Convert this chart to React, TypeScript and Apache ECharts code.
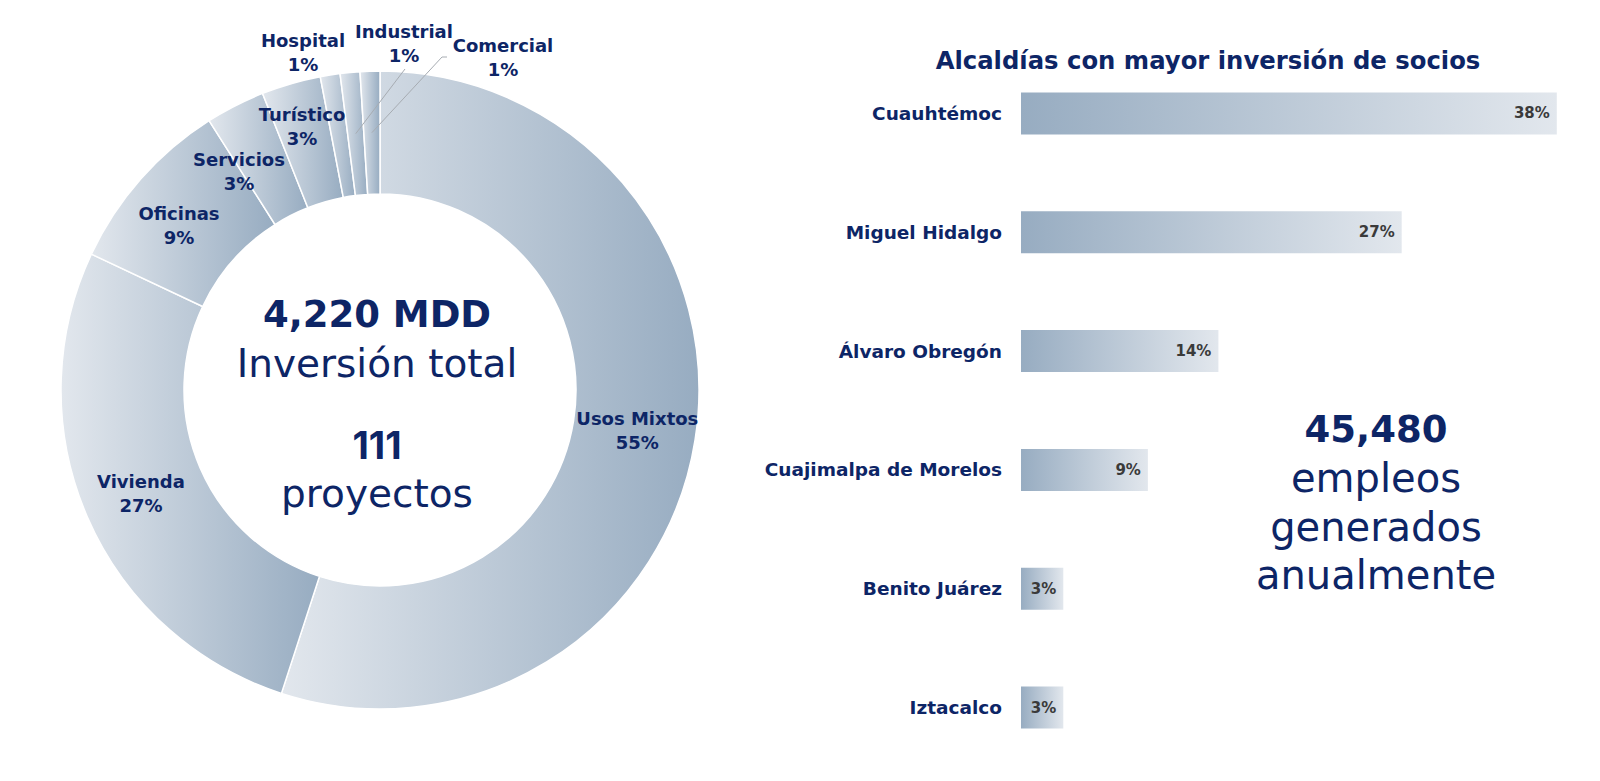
import React, { useEffect, useRef } from "react";
import * as echarts from "echarts";

// Investment by project type (percent of total)
const sectorNames = ["Usos Mixtos", "Vivienda", "Oficinas", "Servicios", "Turístico", "Hospital", "Industrial", "Comercial"];
const sectorShares = [55, 27, 9, 3, 3, 1, 1, 1];

// Boroughs with the largest partner investment (percent)
const boroughs = ["Cuauhtémoc", "Miguel Hidalgo", "Álvaro Obregón", "Cuajimalpa de Morelos", "Benito Juárez", "Iztacalco"];
const boroughShares = [38, 27, 14, 9, 3, 3];

// Headline figures
const totalInvestment = "4,220 MDD";
const totalProjects = "111";
const jobsPerYear = "45,480";

const NAVY = "#0d2566";
const FONT = "'DejaVu Sans', 'Noto Sans', sans-serif";

const PIE_CX = 380;
const PIE_CY = 390;
const R_IN = 196;
const R_OUT = 319;

export default function App() {
  const ref = useRef<HTMLDivElement>(null);

  useEffect(() => {
    document.body.style.margin = "0";
    const chart = echarts.init(ref.current!, null, { renderer: "svg" });

    const pieGradient = () =>
      new echarts.graphic.LinearGradient(0, 0, 1, 0, [
        { offset: 0, color: "#e2e7ed" },
        { offset: 1, color: "#97acc1" },
      ]);
    const barGradient = () =>
      new echarts.graphic.LinearGradient(0, 0, 1, 0, [
        { offset: 0, color: "#97acc1" },
        { offset: 1, color: "#e2e7ed" },
      ]);

    const total = sectorShares.reduce((a, b) => a + b, 0);
    // point in the middle of the ring at a slice's mid-angle (clockwise from top)
    const midRingPoint = (i: number) => {
      const before = sectorShares.slice(0, i).reduce((a, b) => a + b, 0);
      const frac = (before + sectorShares[i] / 2) / total;
      const ang = frac * Math.PI * 2;
      const r = (R_IN + R_OUT) / 2;
      return [PIE_CX + r * Math.sin(ang), PIE_CY - r * Math.cos(ang)];
    };

    // hand-placed labels for the narrow slices in the upper-left of the ring
    const labelPos: Record<number, { x: number; y: number }> = {
      2: { x: 179, y: 225 },
      3: { x: 239, y: 171 },
      4: { x: 302, y: 126 },
      5: { x: 303, y: 52 },
      6: { x: 404, y: 43 },
      7: { x: 503, y: 57 },
    };

    const labelStyle = {
      color: NAVY,
      fontFamily: FONT,
      fontWeight: "bold" as const,
      fontSize: 18,
      lineHeight: 24,
    };

    const pieData = sectorNames.map((name, i) => ({
      name,
      value: sectorShares[i],
      itemStyle: { color: pieGradient() },
      label: { show: true, position: i >= 5 ? "outside" : "inside", ...labelStyle },
      labelLine: { show: false },
    }));

    const leaderLine = (points: number[][]) => ({
      type: "polyline",
      z: 100,
      silent: true,
      shape: { points },
      style: { stroke: "#a7acb2", lineWidth: 1, fill: null },
    });

    const text = (x: number, y: number, t: string, font: string) => ({
      type: "text",
      x,
      y,
      z: 100,
      style: { text: t, fill: NAVY, font, textAlign: "center", textVerticalAlign: "middle" },
    });

    chart.setOption({
      animation: false,
      textStyle: { fontFamily: FONT },
      series: [
        {
          type: "pie",
          center: [PIE_CX, PIE_CY],
          radius: [R_IN, R_OUT],
          startAngle: 90,
          clockwise: true,
          avoidLabelOverlap: false,
          itemStyle: { borderColor: "#ffffff", borderWidth: 1.5 },
          label: { formatter: "{b}\n{c}%" },
          emphasis: { disabled: true },
          data: pieData,
          labelLayout: (params: any) => {
            const p = labelPos[params.dataIndex];
            if (!p) return {};
            return { x: p.x, y: p.y, align: "center", verticalAlign: "middle" };
          },
        },
        {
          type: "bar",
          barWidth: 42,
          data: boroughShares.map((v) => ({ value: v, itemStyle: { color: barGradient() } })),
          label: {
            show: true,
            position: "insideRight",
            distance: 7,
            formatter: "{c}%",
            color: "#3a3a3a",
            fontFamily: FONT,
            fontWeight: "bold",
            fontSize: 15,
          },
          emphasis: { disabled: true },
        },
      ],
      grid: { left: 1021, right: 15, top: 54, bottom: 14 },
      xAxis: { type: "value", min: 0, max: 40, show: false },
      yAxis: {
        type: "category",
        inverse: true,
        data: boroughs,
        axisLine: { show: false },
        axisTick: { show: false },
        axisLabel: {
          margin: 19,
          color: NAVY,
          fontFamily: FONT,
          fontWeight: "bold",
          fontSize: 18.5,
        },
      },
      graphic: [
        leaderLine([midRingPoint(6), [405, 69]]),
        leaderLine([midRingPoint(7), [442, 57], [447, 57]]),
        text(1208, 60, "Alcaldías con mayor inversión de socios", `bold 24.3px ${FONT}`),
        text(377, 314, totalInvestment, `bold 37px ${FONT}`),
        text(377, 363, "Inversión total", `39px ${FONT}`),
        text(377, 445, totalProjects, `bold 38px Inter, ${FONT}`),
        text(377, 493, "proyectos", `39px ${FONT}`),
        text(1376, 429, jobsPerYear, `bold 37px ${FONT}`),
        text(1376, 478, "empleos", `40px ${FONT}`),
        text(1376, 527, "generados", `40px ${FONT}`),
        text(1376, 575, "anualmente", `40px ${FONT}`),
      ],
    });

    return () => chart.dispose();
  }, []);

  return <div ref={ref} style={{ width: 1600, height: 781 }} />;
}
